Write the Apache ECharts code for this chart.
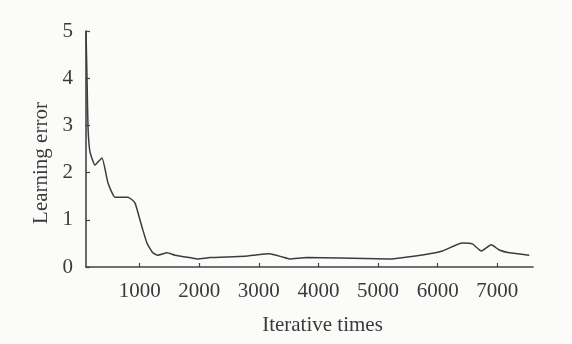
<!DOCTYPE html>
<html>
<head>
<meta charset="utf-8">
<script src="https://cdn.jsdelivr.net/npm/echarts@6/dist/echarts.min.js"></script>
<style>
  html, body { margin: 0; padding: 0; background: #fbfbfa; }
  #chart { width: 572px; height: 344px; }
</style>
</head>
<body>
<div id="chart"></div>
<script>
// Iteration numbers and learning error
const iterations = [100, 117, 134, 167, 251, 368, 469, 586, 804, 921, 1005, 1055, 1122, 1222, 1306, 1457, 1591, 1876, 1976, 2177, 2763, 3182, 3400, 3517, 3802, 4355, 5192, 5862, 6080, 6415, 6582, 6733, 6900, 7035, 7202, 7537];
const learningError = [5.0, 4.0, 2.95, 2.44, 2.16, 2.31, 1.78, 1.48, 1.48, 1.36, 1.0, 0.78, 0.51, 0.30, 0.25, 0.30, 0.25, 0.19, 0.17, 0.20, 0.23, 0.28, 0.21, 0.17, 0.20, 0.19, 0.17, 0.28, 0.34, 0.51, 0.49, 0.34, 0.47, 0.36, 0.30, 0.25];
const xTickValues = [1000, 2000, 3000, 4000, 5000, 6000, 7000];
const yTickValues = [0, 1, 2, 3, 4, 5];
const xTitle = 'Iterative times';
const yTitle = 'Learning error';

const seriesData = iterations.map((x, i) => [x, learningError[i]]);
const font = '"Liberation Serif", "DejaVu Serif", serif';
const ink = '#3a3a3a';

const chart = echarts.init(document.getElementById('chart'), null, { renderer: 'canvas' });
chart.setOption({
  backgroundColor: '#fbfbfa',
  animation: false,
  grid: { left: 86, right: 39, top: 31, bottom: 77 },
  xAxis: {
    type: 'value',
    min: 100,
    max: 7600,
    name: xTitle,
    nameLocation: 'middle',
    nameGap: 48,
    nameTextStyle: { fontFamily: font, fontSize: 21, color: ink, padding: [0, 0, 0, 26] },
    splitLine: { show: false },
    axisLine: { lineStyle: { color: '#444', width: 1.6 } },
    axisTick: { show: true, inside: true, length: 4, customValues: xTickValues, lineStyle: { color: '#444', width: 1.2 } },
    axisLabel: { customValues: xTickValues, formatter: v => String(v), fontFamily: font, fontSize: 21, color: ink, margin: 14 }
  },
  yAxis: {
    type: 'value',
    min: 0,
    max: 5,
    interval: 1,
    name: yTitle,
    nameLocation: 'middle',
    nameGap: 31,
    nameRotate: 90,
    nameTextStyle: { fontFamily: font, fontSize: 21, color: ink, padding: [0, 28, 0, 0], align: 'center' },
    splitLine: { show: false },
    axisLine: { show: true, lineStyle: { color: '#444', width: 1.6 } },
    axisTick: { show: true, inside: true, length: 4, lineStyle: { color: '#444', width: 1.2 } },
    axisLabel: { customValues: yTickValues, formatter: v => String(v), fontFamily: font, fontSize: 21, color: ink, margin: 13 }
  },
  series: [{
    type: 'line',
    data: seriesData,
    showSymbol: false,
    smooth: 0.15,
    lineStyle: { color: '#3c3c3c', width: 1.5 }
  }]
});
</script>
</body>
</html>
